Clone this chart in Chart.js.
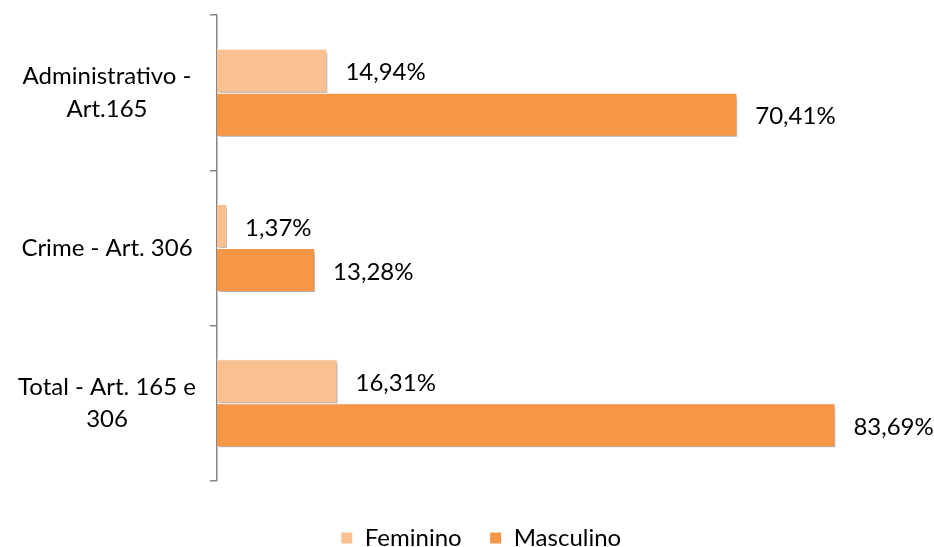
<!DOCTYPE html>
<html>
<head>
<meta charset="utf-8">
<script src="https://cdn.jsdelivr.net/npm/chart.js@4/dist/chart.umd.min.js"></script>
<style>
  html, body { margin: 0; padding: 0; background: #fff; }
</style>
</head>
<body>
<canvas id="chart" width="934" height="547"></canvas>
<script>
const categories = [['Administrativo -', 'Art.165'], 'Crime - Art. 306', ['Total - Art. 165 e', '306']];
const feminino = [14.94, 1.37, 16.31];
const masculino = [70.41, 13.28, 83.69];
const seriesNames = ['Feminino', 'Masculino'];

const fmt = v => v.toFixed(2).replace('.', ',') + '%';

// sombra das barras (estilo Excel)
const barShadow = {
    id: 'barShadow',
    beforeDatasetDraw(chart) {
        const c = chart.ctx;
        c.save();
        c.shadowColor = 'rgba(0, 0, 0, 0.35)';
        c.shadowBlur = 4;
        c.shadowOffsetX = 2;
        c.shadowOffsetY = 3;
    },
    afterDatasetDraw(chart) {
        chart.ctx.restore();
    }
};

// rótulos de valor à direita das barras
const barLabels = {
    id: 'barLabels',
    afterDatasetsDraw(chart) {
        const c = chart.ctx;
        c.save();
        c.font = '24px Lato';
        c.fillStyle = '#000';
        c.textBaseline = 'middle';
        c.textAlign = 'left';
        chart.data.datasets.forEach((ds, i) => {
            chart.getDatasetMeta(i).data.forEach((bar, j) => {
                c.fillText(fmt(ds.data[j]), bar.x + 18, bar.y + 2);
            });
        });
        c.restore();
    }
};

// legenda um pouco mais abaixo e à direita
const legendShift = {
    id: 'legendShift',
    afterLayout(chart) {
        const lg = chart.legend;
        lg.top += 17;
        lg.bottom += 17;
        lg.left += 40;
        lg.right += 40;
    }
};

const ctx = document.querySelector('#chart');

const chart = new Chart(ctx.getContext('2d'), {
    type: 'bar',
    data: {
        labels: categories,
        datasets: [
            {
                label: seriesNames[0],
                data: feminino,
                backgroundColor: '#FAC090',
                borderColor: '#fff',
                borderWidth: 1,
                barPercentage: 1,
                categoryPercentage: 0.567
            },
            {
                label: seriesNames[1],
                data: masculino,
                backgroundColor: '#F79646',
                borderColor: '#fff',
                borderWidth: 1,
                barPercentage: 1,
                categoryPercentage: 0.567
            }
        ]
    },
    options: {
        indexAxis: 'y',
        responsive: false,
        animation: false,
        layout: {
            padding: { top: 15, right: 52, left: 0, bottom: 4 }
        },
        scales: {
            x: {
                display: false,
                min: 0,
                max: 90
            },
            y: {
                afterFit(scale) {
                    scale.width = 217;
                    scale.paddingTop = 0;
                    scale.paddingBottom = 0;
                },
                border: { color: '#868686', width: 1.5 },
                grid: {
                    drawOnChartArea: false,
                    drawTicks: true,
                    tickLength: 7,
                    color: '#868686',
                    lineWidth: 1.5
                },
                ticks: {
                    color: '#000',
                    crossAlign: 'center',
                    padding: 14,
                    font: { family: 'Lato', size: 24, lineHeight: 1.35 }
                }
            }
        },
        plugins: {
            legend: {
                position: 'bottom',
                labels: {
                    color: '#000',
                    boxWidth: 12,
                    boxHeight: 12,
                    padding: 28,
                    font: { family: 'Lato', size: 24 }
                }
            },
            tooltip: { enabled: false }
        }
    },
    plugins: [barShadow, barLabels, legendShift]
});
</script>
</body>
</html>
